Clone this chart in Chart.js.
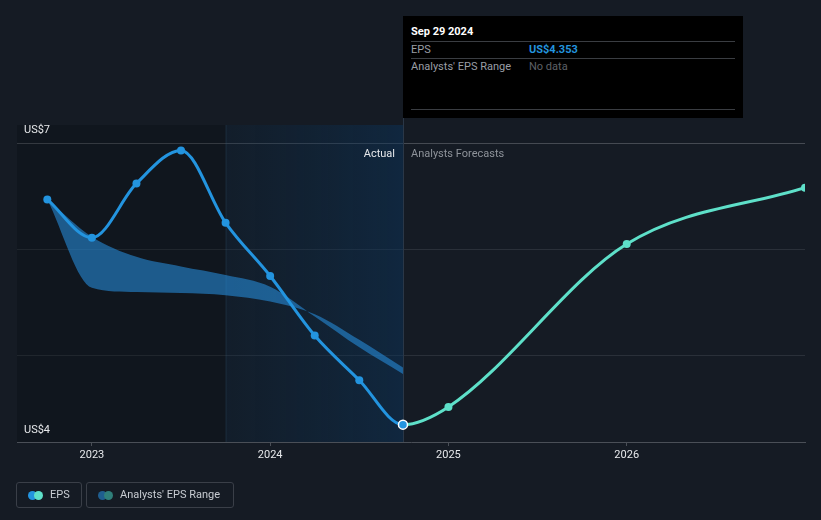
<!DOCTYPE html>
<html>
<head>
<meta charset="utf-8">
<script src="https://cdn.jsdelivr.net/npm/chart.js@4"></script>
<style>
  html, body { margin: 0; padding: 0; background: #151b24; }
  #wrap { position: relative; width: 821px; height: 520px; font-family: Roboto, "Noto Sans", sans-serif; }
  #chartCanvas { position: absolute; left: 0; top: 0; }
  .tip { position: absolute; left: 403px; top: 16px; width: 340px; height: 102px; background: #000; }
  .tip .row { position: absolute; left: 8px; right: 8px; font-size: 11px; }
  .tip .sep { position: absolute; left: 8px; right: 8px; height: 1px; background: #3a3d42; }
  .legend { position: absolute; top: 482px; height: 26px; border: 1px solid #3a3f48; border-radius: 3px; box-sizing: border-box;
            color: #c8ccd2; font-size: 11px; line-height: 24px; }
  .dot { position: absolute; top: 8px; width: 9px; height: 9px; border-radius: 50%; }
</style>
</head>
<body>
<div id="wrap">
  <canvas id="chartCanvas" width="821" height="520"></canvas>
  <div class="tip">
    <div class="row" style="top:9px;color:#fff;font-weight:bold;">Sep 29 2024</div>
    <div class="sep" style="top:25px"></div>
    <div class="row" style="top:27px;color:#9a9ea5;">EPS<span style="position:absolute;left:118px;color:#2394df;font-weight:bold;">US$4.353</span></div>
    <div class="sep" style="top:42px"></div>
    <div class="row" style="top:44px;color:#9a9ea5;">Analysts' EPS Range<span style="position:absolute;left:118px;color:#5e6167;">No data</span></div>
    <div class="sep" style="top:93px"></div>
  </div>
  <div class="legend" style="left:16px;width:66px;">
    <span class="dot" style="left:11px;background:#2394df;"></span>
    <span class="dot" style="left:17px;background:#5ee0c9;"></span>
    <span style="position:absolute;left:33px;">EPS</span>
  </div>
  <div class="legend" style="left:86px;width:148px;">
    <span class="dot" style="left:11px;background:#1f5e8f;"></span>
    <span class="dot" style="left:17px;background:#2f7f7a;"></span>
    <span style="position:absolute;left:33px;">Analysts' EPS Range</span>
  </div>
</div>
<script>
// data
const epsDates = [2022.75, 2023.0, 2023.25, 2023.5, 2023.75, 2024.0, 2024.25, 2024.5, 2024.745];
const epsValues = [6.47, 6.11, 6.62, 6.93, 6.25, 5.75, 5.19, 4.77, 4.353];
const forecastDates = [2024.745, 2025.0, 2026.0, 2027.0];
const forecastValues = [4.353, 4.52, 6.05, 6.58];
const rangeDates = [2022.75, 2023.0, 2023.25, 2023.5, 2023.75, 2024.0, 2024.25, 2024.5, 2024.745];
const rangeEdgeA = [6.47, 6.12, 5.93, 5.84, 5.76, 5.65, 5.37, 5.08, 4.83];
const rangeEdgeB = [6.47, 5.64, 5.60, 5.59, 5.57, 5.51, 5.39, 5.15, 4.89];
const yearTicks = [2023, 2024, 2025, 2026];
const yGridValues = [5, 6, 7];
const yLabels = ["US$7", "US$4"];

const pts = (xs, ys) => xs.map((x, i) => ({ x: x, y: ys[i] }));

// one continuous curve so the join at Sep 2024 is smooth
const allDates = epsDates.concat(forecastDates.slice(1));
const allValues = epsValues.concat(forecastValues.slice(1));
const nEps = epsDates.length;
const epsLine = pts(allDates, allValues).slice(0, nEps + 1);
const fcLine = pts(allDates, allValues).slice(nEps - 2);

// background regions, labels
const decor = {
    id: "decor",
    beforeDatasetsDraw(chart) {
        const c = chart.ctx, a = chart.chartArea, xs = chart.scales.x;
        const x1 = xs.getPixelForValue(2023.75), x2 = xs.getPixelForValue(2024.745);
        const top = 125;
        c.save();
        c.fillStyle = "rgba(5,7,10,0.25)";
        c.fillRect(a.left, top, x1 - a.left, a.bottom - top);
        const g = c.createLinearGradient(x1, 0, x2, 0);
        g.addColorStop(0, "rgba(14,38,60,0.3)");
        g.addColorStop(1, "rgba(12,52,90,0.5)");
        c.fillStyle = g;
        c.fillRect(x1, top, x2 - x1, a.bottom - top);
        c.fillStyle = "rgba(50,80,110,0.3)";
        c.fillRect(x1, top, 1, a.bottom - top);
        c.fillStyle = "#2a3747";
        c.fillRect(Math.round(x2), 16, 1, a.bottom - 16);
        c.restore();
    },
    afterDraw(chart) {
        const c = chart.ctx, xs = chart.scales.x;
        const x2 = xs.getPixelForValue(2024.745);
        c.save();
        c.font = "11px Roboto, sans-serif";
        c.textBaseline = "middle";
        c.fillStyle = "#e6e8eb";
        c.fillText(yLabels[0], 24, 130);
        c.fillText(yLabels[1], 24, 430);
        c.textAlign = "right";
        c.fillText("Actual", x2 - 8, 154);
        c.textAlign = "left";
        c.fillStyle = "#8e939a";
        c.fillText("Analysts Forecasts", x2 + 8, 154);
        c.restore();
    }
};

const ctx = document.getElementById("chartCanvas").getContext("2d");
new Chart(ctx, {
    type: "line",
    data: {
        datasets: [
            {
                label: "RangeA",
                data: pts(rangeDates, rangeEdgeA),
                borderWidth: 0,
                pointRadius: 0,
                fill: "+1",
                backgroundColor: "rgba(38,138,215,0.6)",
                cubicInterpolationMode: "monotone",
                order: 3
            },
            {
                label: "RangeB",
                data: pts(rangeDates, rangeEdgeB),
                borderWidth: 0,
                pointRadius: 0,
                fill: false,
                cubicInterpolationMode: "monotone",
                order: 3
            },
            {
                label: "Forecast",
                data: fcLine,
                borderColor: "#5ee0c9",
                backgroundColor: "#5ee0c9",
                borderWidth: 3,
                pointRadius: ctx => ctx.dataIndex < 2 ? 0 : 4,
                pointBorderWidth: 0,
                cubicInterpolationMode: "monotone",
                segment: { borderColor: s => s.p0DataIndex === 0 ? "rgba(0,0,0,0)" : undefined },
                order: 2
            },
            {
                label: "EPS",
                data: epsLine,
                borderColor: "#2394df",
                backgroundColor: "#2394df",
                borderWidth: 3,
                pointRadius: ctx => ctx.dataIndex === nEps ? 0 : (ctx.dataIndex === nEps - 1 ? 4.5 : 4),
                pointBorderWidth: ctx => ctx.dataIndex === nEps - 1 ? 1.5 : 0,
                pointBorderColor: "#ffffff",
                cubicInterpolationMode: "monotone",
                segment: { borderColor: s => s.p1DataIndex === nEps ? "rgba(0,0,0,0)" : undefined },
                order: 1
            }
        ]
    },
    options: {
        responsive: false,
        animation: false,
        events: [],
        layout: { padding: { left: 17, right: 16, top: 143, bottom: 0 } },
        plugins: { legend: { display: false }, tooltip: { enabled: false } },
        scales: {
            x: {
                type: "linear",
                min: 2022.58,
                max: 2027.0,
                afterBuildTicks: s => { s.ticks = yearTicks.map(v => ({ value: v })); },
                afterFit: s => { s.height = 78; },
                grid: { drawOnChartArea: false, color: "#4a4f57", tickLength: 4 },
                border: { color: "#4a4f57", width: 1 },
                ticks: {
                    color: "#e6e8eb",
                    font: { family: "Roboto", size: 11 },
                    padding: 3,
                    maxRotation: 0,
                    callback: v => String(v)
                }
            },
            y: {
                min: 4.19,
                max: 7.0,
                afterBuildTicks: s => { s.ticks = yGridValues.map(v => ({ value: v })); },
                afterFit: s => { s.width = 0; },
                border: { display: false },
                ticks: { display: false },
                grid: {
                    color: c => c.tick && c.tick.value === 7 ? "#454a52" : "#2a3039",
                    tickLength: 0
                }
            }
        }
    },
    plugins: [decor]
});
</script>
</body>
</html>
